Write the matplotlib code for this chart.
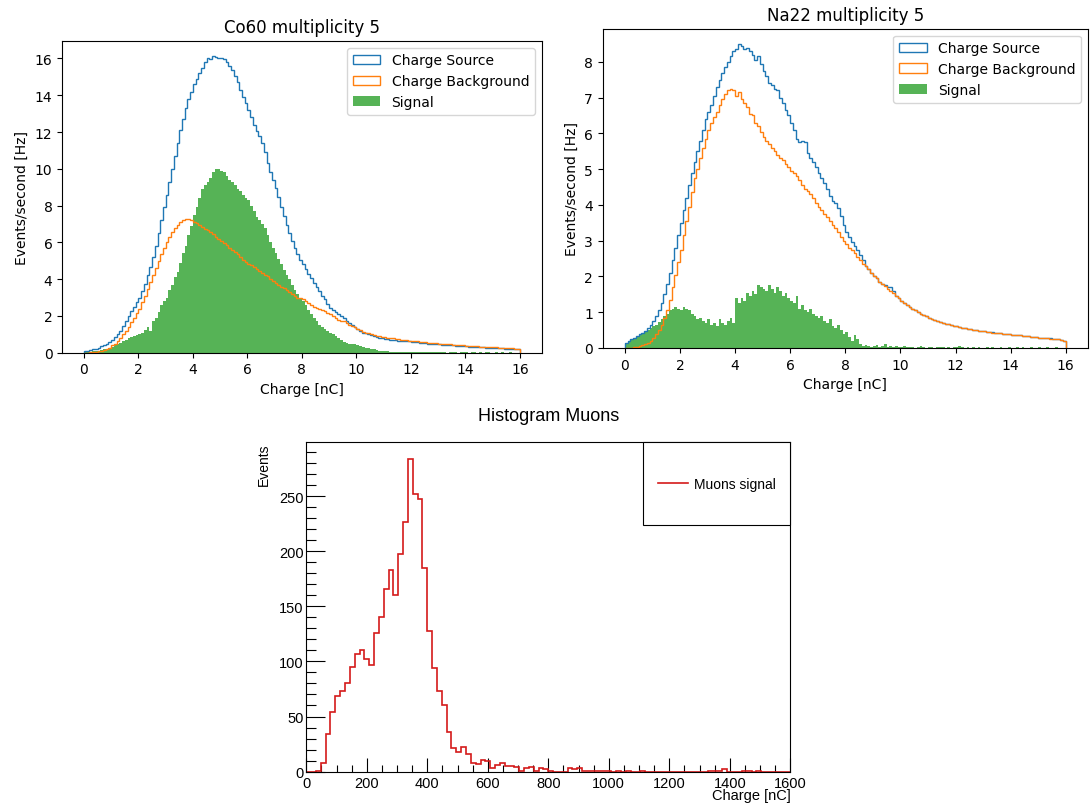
import numpy as np
import matplotlib.pyplot as plt
from matplotlib.patches import Rectangle
from matplotlib.lines import Line2D
from matplotlib.ticker import MultipleLocator

# source histograms: 0-16 nC in 0.1 nC bins, one row per nC
charge_edges = np.linspace(0, 16, 161)

co60_source = [
    0.10, 0.12, 0.15, 0.18, 0.22, 0.28, 0.35, 0.42, 0.50, 0.60,
    0.70, 0.85, 1.00, 1.20, 1.45, 1.75, 2.00, 2.25, 2.50, 2.75,
    3.00, 3.35, 3.75, 4.20, 4.65, 5.20, 5.80, 6.50, 7.20, 7.90,
    8.60, 9.30, 10.00, 10.70, 11.40, 12.10, 12.70, 13.30, 13.80, 14.20,
    14.60, 14.90, 15.20, 15.50, 15.80, 16.05, 15.95, 16.15, 16.10, 16.00,
    16.05, 15.95, 15.80, 15.60, 15.35, 15.05, 14.70, 14.30, 13.90, 13.55,
    13.20, 12.80, 12.40, 12.05, 11.80, 11.40, 10.90, 10.30, 9.80, 9.40,
    8.95, 8.45, 7.95, 7.45, 6.95, 6.50, 6.10, 5.70, 5.35, 5.05,
    4.80, 4.55, 4.30, 4.05, 3.80, 3.60, 3.35, 3.10, 2.90, 2.65,
    2.45, 2.30, 2.20, 2.10, 2.00, 1.90, 1.75, 1.60, 1.50, 1.40,
    1.30, 1.20, 1.10, 1.05, 1.00, 0.95, 0.90, 0.85, 0.82, 0.78,
    0.75, 0.73, 0.71, 0.69, 0.68, 0.66, 0.65, 0.64, 0.63, 0.62,
    0.60, 0.58, 0.57, 0.55, 0.54, 0.52, 0.50, 0.49, 0.48, 0.47,
    0.45, 0.44, 0.43, 0.42, 0.41, 0.40, 0.39, 0.38, 0.37, 0.36,
    0.35, 0.34, 0.33, 0.32, 0.31, 0.30, 0.29, 0.28, 0.28, 0.27,
    0.26, 0.25, 0.25, 0.24, 0.23, 0.23, 0.22, 0.22, 0.21, 0.20,
]
co60_background = [
    0.00, 0.01, 0.02, 0.03, 0.05, 0.07, 0.10, 0.15, 0.20, 0.28,
    0.40, 0.50, 0.65, 0.80, 1.00, 1.20, 1.40, 1.65, 1.90, 2.15,
    2.40, 2.75, 3.10, 3.45, 3.85, 4.20, 4.60, 5.00, 5.35, 5.70,
    6.00, 6.30, 6.55, 6.80, 6.95, 7.10, 7.20, 7.25, 7.25, 7.20,
    7.10, 7.05, 6.95, 6.85, 6.75, 6.65, 6.55, 6.45, 6.30, 6.20,
    6.10, 5.95, 5.85, 5.70, 5.60, 5.50, 5.35, 5.20, 5.05, 4.95,
    4.85, 4.75, 4.65, 4.55, 4.45, 4.35, 4.25, 4.15, 4.00, 3.90,
    3.80, 3.70, 3.60, 3.50, 3.40, 3.30, 3.20, 3.10, 3.00, 2.95,
    2.90, 2.80, 2.70, 2.60, 2.50, 2.45, 2.40, 2.30, 2.25, 2.15,
    2.10, 2.00, 1.90, 1.80, 1.75, 1.70, 1.60, 1.50, 1.45, 1.40,
    1.30, 1.25, 1.15, 1.10, 1.05, 1.00, 0.95, 0.92, 0.90, 0.88,
    0.85, 0.82, 0.80, 0.78, 0.76, 0.74, 0.72, 0.70, 0.68, 0.66,
    0.65, 0.63, 0.62, 0.60, 0.58, 0.57, 0.55, 0.54, 0.52, 0.51,
    0.50, 0.49, 0.48, 0.46, 0.45, 0.44, 0.43, 0.42, 0.41, 0.40,
    0.38, 0.37, 0.36, 0.35, 0.35, 0.34, 0.33, 0.32, 0.31, 0.31,
    0.30, 0.29, 0.28, 0.28, 0.27, 0.26, 0.25, 0.24, 0.22, 0.20,
]
co60_signal = [
    0.05, 0.05, 0.06, 0.08, 0.10, 0.12, 0.15, 0.18, 0.22, 0.28,
    0.32, 0.40, 0.45, 0.55, 0.62, 0.70, 0.78, 0.85, 0.90, 0.95,
    1.00, 1.10, 1.25, 1.40, 1.20, 1.70, 1.90, 2.20, 2.60, 2.80,
    3.00, 3.40, 3.70, 4.10, 4.40, 4.90, 5.40, 5.80, 6.40, 6.90,
    7.50, 7.90, 8.40, 8.90, 9.10, 9.30, 9.50, 9.80, 10.00, 10.00,
    9.90, 9.80, 9.60, 9.40, 9.30, 9.10, 8.90, 8.80, 8.60, 8.40,
    8.30, 8.00, 7.70, 7.40, 7.20, 7.00, 6.80, 6.40, 6.00, 5.70,
    5.40, 5.10, 4.80, 4.50, 4.20, 4.00, 3.70, 3.40, 3.20, 3.00,
    2.80, 2.60, 2.30, 2.10, 1.90, 1.70, 1.50, 1.40, 1.30, 1.20,
    1.10, 1.00, 0.90, 0.80, 0.70, 0.60, 0.55, 0.50, 0.50, 0.45,
    0.40, 0.35, 0.30, 0.28, 0.25, 0.20, 0.18, 0.15, 0.12, 0.10,
    0.08, 0.08, 0.06, 0.05, 0.05, 0.05, 0.04, 0.03, 0.04, 0.03,
    0.04, 0.03, 0.02, 0.03, 0.04, 0.02, 0.03, 0.02, 0.03, 0.02,
    0.02, 0.03, 0.02, 0.00, 0.03, 0.02, 0.02, 0.00, 0.02, 0.02,
    0.02, 0.00, 0.02, 0.03, 0.00, 0.02, 0.00, 0.02, 0.02, 0.00,
    0.00, 0.02, 0.00, 0.02, 0.00, 0.00, 0.02, 0.00, 0.00, 0.00,
]

na22_source = [
    0.15, 0.20, 0.25, 0.28, 0.32, 0.38, 0.42, 0.48, 0.55, 0.65,
    0.75, 0.90, 1.05, 1.25, 1.50, 1.80, 2.10, 2.45, 2.80, 3.15,
    3.50, 3.85, 4.20, 4.55, 4.90, 5.20, 5.50, 5.80, 6.10, 6.40,
    6.60, 6.80, 7.05, 7.30, 7.50, 7.70, 7.85, 8.00, 8.15, 8.30,
    8.35, 8.50, 8.45, 8.35, 8.40, 8.30, 8.20, 8.05, 8.15, 7.95,
    7.75, 7.60, 7.40, 7.35, 7.25, 7.20, 7.00, 6.85, 6.65, 6.50,
    6.30, 6.10, 5.85, 5.75, 5.80, 5.75, 5.45, 5.30, 5.20, 5.05,
    4.90, 4.75, 4.60, 4.45, 4.25, 4.10, 4.05, 3.90, 3.70, 3.45,
    3.25, 3.10, 2.95, 2.85, 2.75, 2.60, 2.45, 2.30, 2.20, 2.10,
    2.00, 1.95, 1.85, 1.80, 1.75, 1.70, 1.70, 1.60, 1.45, 1.40,
    1.30, 1.25, 1.20, 1.15, 1.10, 1.05, 1.00, 0.95, 0.92, 0.88,
    0.85, 0.82, 0.78, 0.75, 0.72, 0.70, 0.68, 0.66, 0.64, 0.62,
    0.60, 0.58, 0.56, 0.55, 0.53, 0.52, 0.50, 0.49, 0.48, 0.47,
    0.46, 0.45, 0.44, 0.44, 0.43, 0.42, 0.41, 0.40, 0.39, 0.38,
    0.37, 0.36, 0.35, 0.35, 0.34, 0.33, 0.32, 0.31, 0.31, 0.30,
    0.29, 0.29, 0.28, 0.27, 0.27, 0.26, 0.25, 0.24, 0.22, 0.20,
]
na22_background = [
    0.00, 0.00, 0.01, 0.02, 0.03, 0.05, 0.07, 0.10, 0.14, 0.20,
    0.28, 0.38, 0.50, 0.65, 0.85, 1.05, 1.35, 1.70, 2.05, 2.40,
    2.75, 3.15, 3.55, 3.95, 4.35, 4.75, 5.00, 5.30, 5.60, 5.85,
    6.10, 6.30, 6.45, 6.60, 6.80, 6.95, 7.10, 7.20, 7.25, 7.20,
    7.05, 7.15, 6.95, 6.85, 6.75, 6.55, 6.50, 6.30, 6.20, 6.05,
    5.90, 5.80, 5.70, 5.60, 5.50, 5.40, 5.30, 5.25, 5.15, 5.05,
    4.95, 4.90, 4.80, 4.70, 4.55, 4.45, 4.40, 4.30, 4.20, 4.05,
    3.95, 3.85, 3.75, 3.65, 3.55, 3.45, 3.35, 3.25, 3.10, 3.00,
    2.90, 2.80, 2.75, 2.65, 2.55, 2.45, 2.35, 2.30, 2.20, 2.10,
    2.00, 1.95, 1.85, 1.80, 1.72, 1.65, 1.60, 1.55, 1.45, 1.40,
    1.32, 1.25, 1.20, 1.15, 1.10, 1.05, 1.00, 0.95, 0.92, 0.88,
    0.85, 0.82, 0.78, 0.75, 0.72, 0.70, 0.68, 0.66, 0.64, 0.62,
    0.60, 0.58, 0.56, 0.55, 0.53, 0.52, 0.50, 0.49, 0.48, 0.47,
    0.46, 0.45, 0.44, 0.43, 0.43, 0.42, 0.41, 0.40, 0.39, 0.38,
    0.37, 0.36, 0.35, 0.35, 0.34, 0.33, 0.32, 0.31, 0.30, 0.30,
    0.29, 0.28, 0.28, 0.27, 0.26, 0.26, 0.25, 0.24, 0.22, 0.20,
]
na22_signal = [
    0.15, 0.20, 0.25, 0.28, 0.30, 0.35, 0.40, 0.45, 0.50, 0.55,
    0.60, 0.65, 0.72, 0.80, 0.90, 0.95, 1.05, 1.10, 1.15, 1.10,
    1.05, 1.15, 1.10, 1.05, 0.95, 0.90, 0.80, 0.85, 0.75, 0.70,
    0.80, 0.65, 0.70, 0.60, 0.80, 0.70, 0.65, 0.75, 0.85, 0.70,
    1.40, 1.25, 1.40, 1.30, 1.55, 1.45, 1.60, 1.50, 1.75, 1.70,
    1.65, 1.60, 1.75, 1.65, 1.55, 1.70, 1.60, 1.45, 1.55, 1.40,
    1.30, 1.25, 1.45, 1.10, 1.20, 1.05, 1.00, 1.10, 0.95, 0.90,
    0.85, 0.90, 0.75, 0.70, 0.80, 0.60, 0.55, 0.65, 0.50, 0.40,
    0.45, 0.30, 0.20, 0.35, 0.25, 0.10, 0.05, 0.08, 0.05, 0.03,
    0.05, 0.08, 0.03, 0.05, 0.10, 0.04, 0.05, 0.02, 0.06, 0.03,
    0.02, 0.05, 0.03, 0.02, 0.04, 0.00, 0.03, 0.05, 0.02, 0.00,
    0.03, 0.02, 0.00, 0.04, 0.02, 0.03, 0.00, 0.02, 0.00, 0.03,
    0.02, 0.05, 0.02, 0.00, 0.03, 0.00, 0.02, 0.00, 0.03, 0.00,
    0.00, 0.02, 0.00, 0.02, 0.00, 0.00, 0.02, 0.00, 0.00, 0.02,
    0.00, 0.00, 0.02, 0.00, 0.02, 0.00, 0.00, 0.02, 0.00, 0.00,
    0.02, 0.00, 0.00, 0.02, 0.00, 0.00, 0.02, 0.00, 0.00, 0.00,
]

# muon histogram: 0-1600 nC in 16 nC bins
muon_edges = np.linspace(0, 1600, 101)
muon_counts = [
    0, 0, 1, 8, 34, 54, 69, 73, 80, 95,
    107, 110, 102, 97, 126, 140, 166, 183, 160, 197,
    226, 284, 252, 247, 185, 128, 94, 73, 60, 36,
    21, 18, 22, 16, 8, 7, 11, 10, 3, 6,
    8, 5, 5, 4, 1, 3, 4, 1, 3, 2,
    1, 0, 0, 0, 3, 2, 3, 1, 1, 1,
    1, 1, 1, 0, 1, 0, 1, 0, 0, 1,
    0, 0, 0, 0, 0, 0, 0, 0, 0, 0,
    0, 0, 0, 1, 1, 1, 2, 0, 0, 0,
    1, 1, 0, 1, 0, 0, 0, 0, 0, 0,
]


def source_panel(ax, title, source, background, signal):
    centers = 0.5 * (charge_edges[1:] + charge_edges[:-1])
    ax.hist(centers, bins=charge_edges, weights=source, histtype='step',
            color='tab:blue', label='Charge Source')
    ax.hist(centers, bins=charge_edges, weights=background, histtype='step',
            color='tab:orange', label='Charge Background')
    ax.hist(centers, bins=charge_edges, weights=signal, histtype='stepfilled',
            color='tab:green', alpha=0.8, label='Signal')
    ax.set_xticks(np.arange(0, 17, 2))
    ax.set_title(title, fontsize=12)
    ax.set_xlabel('Charge [nC]', fontsize=10)
    ax.set_ylabel('Events/second [Hz]', fontsize=10)
    ax.tick_params(labelsize=10)
    ax.legend(loc='upper right', fontsize=10)


def main():
    fig = plt.figure(figsize=(10.9, 8.04), dpi=100)

    ax1 = fig.add_axes([0.057, 0.560, 0.440, 0.388])
    source_panel(ax1, 'Co60 multiplicity 5', co60_source, co60_background, co60_signal)

    ax2 = fig.add_axes([0.553, 0.566, 0.445, 0.397])
    source_panel(ax2, 'Na22 multiplicity 5', na22_source, na22_background, na22_signal)

    # ROOT-looking muon panel
    root_font = 'Liberation Sans'
    red = '#d41a1a'
    ax3 = fig.add_axes([0.281, 0.039, 0.444, 0.410])
    mcenters = 0.5 * (muon_edges[1:] + muon_edges[:-1])
    ax3.hist(mcenters, bins=muon_edges, weights=muon_counts, histtype='step',
             color=red, linewidth=1.2)
    ax3.set_xlim(0, 1600)
    ax3.set_ylim(0, 299)
    ax3.xaxis.set_major_locator(MultipleLocator(200))
    ax3.xaxis.set_minor_locator(MultipleLocator(50))
    ax3.yaxis.set_major_locator(MultipleLocator(50))
    ax3.yaxis.set_minor_locator(MultipleLocator(10))
    ax3.tick_params(axis='x', which='major', direction='in', length=10, width=0.8, pad=3)
    ax3.tick_params(axis='x', which='minor', direction='in', length=5, width=0.8)
    ax3.tick_params(axis='y', which='major', direction='in', length=14, width=0.8, pad=2)
    ax3.tick_params(axis='y', which='minor', direction='in', length=7, width=0.8)
    for lab in ax3.get_xticklabels() + ax3.get_yticklabels():
        lab.set_family(root_font)
        lab.set_fontsize(10.5)
    for sp in ax3.spines.values():
        sp.set_linewidth(0.8)
    ax3.set_title('Histogram Muons', fontsize=13, family=root_font, pad=16)
    ax3.set_xlabel('Charge [nC]', fontsize=10.5, family=root_font, loc='right', labelpad=-1)
    ax3.set_ylabel('Events', fontsize=10, family=root_font, loc='top', labelpad=6)

    ax3.add_patch(Rectangle((0.696, 0.748), 0.304, 0.252, transform=ax3.transAxes,
                            facecolor='white', edgecolor='black', linewidth=0.8,
                            clip_on=False, zorder=3))
    ax3.legend([Line2D([], [], color=red, linewidth=1.2)], ['Muons signal'],
               loc='center', bbox_to_anchor=(0.696, 0.748, 0.304, 0.252),
               frameon=False, prop={'family': root_font, 'size': 10},
               handlelength=2.2, handletextpad=0.4)

    fig.savefig('out.png', dpi=100)


if __name__ == '__main__':
    main()
